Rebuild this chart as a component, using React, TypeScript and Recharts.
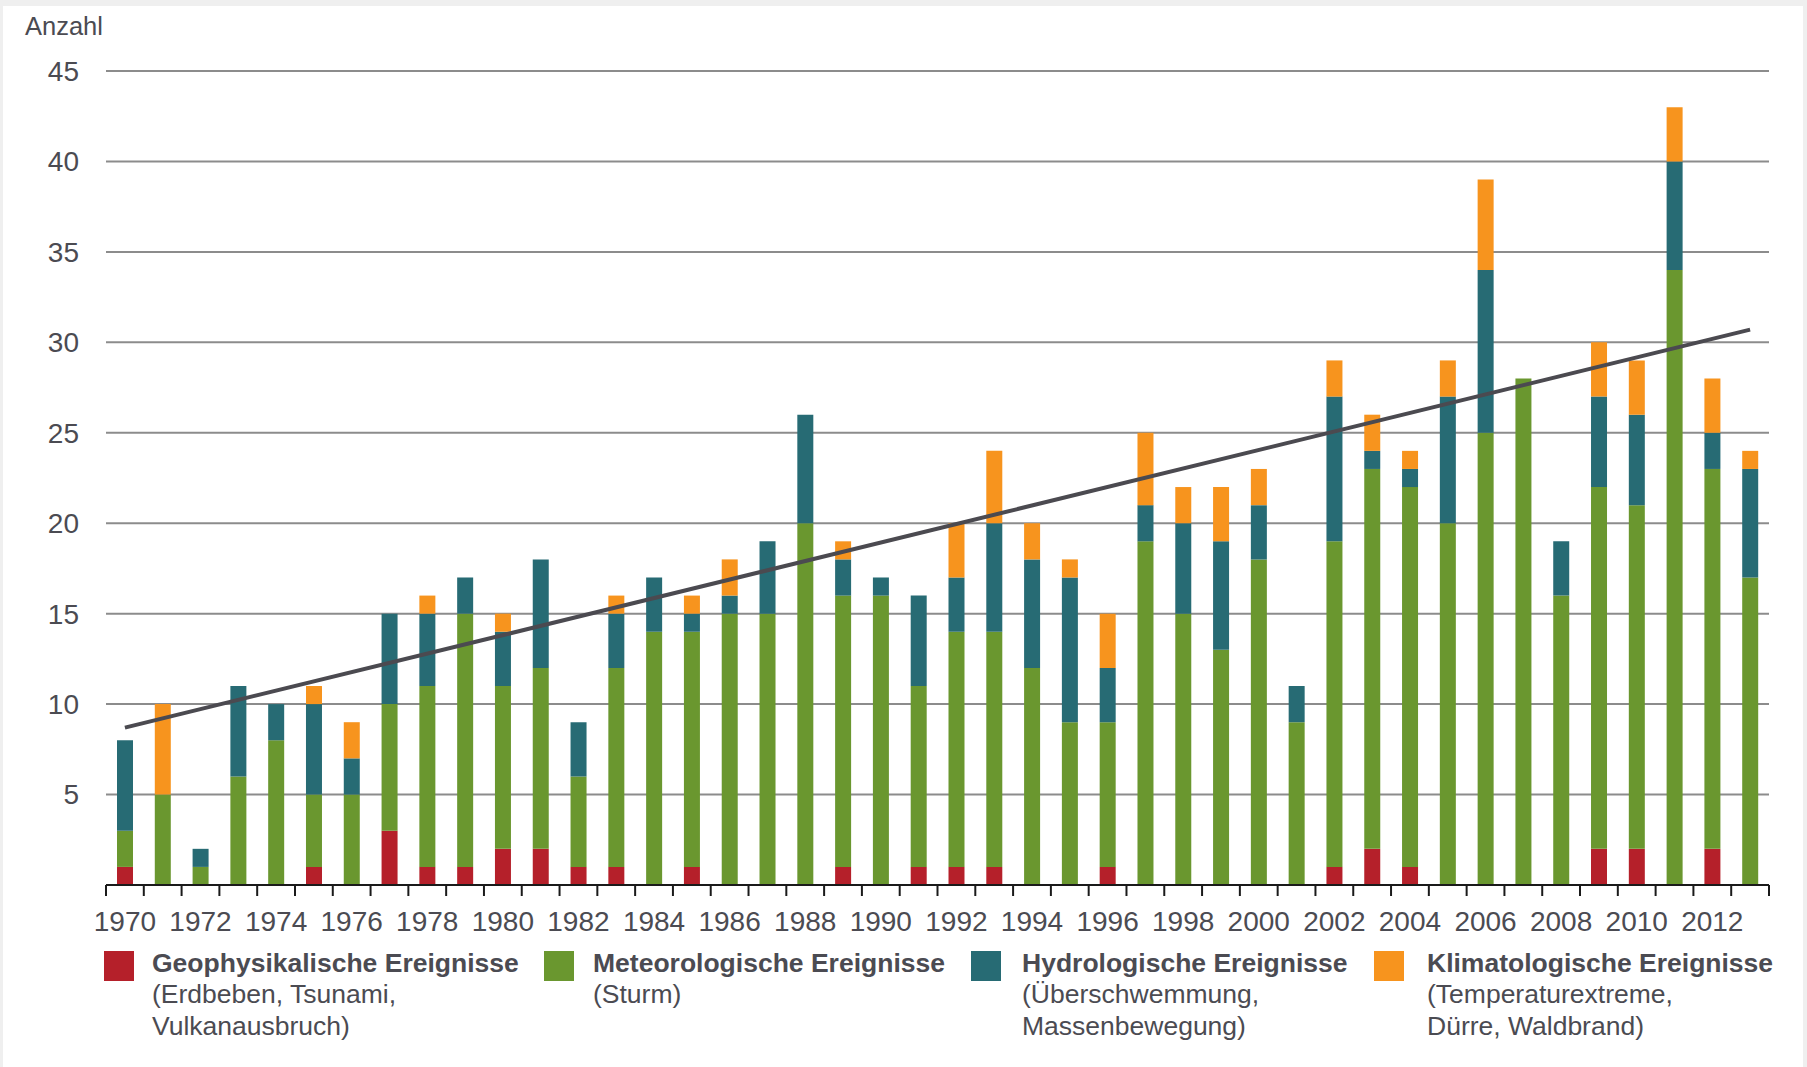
import React from "react";
import { ComposedChart, Bar, Line, XAxis, YAxis, CartesianGrid } from "recharts";

const years = [
  "1970","1971","1972","1973","1974","1975","1976","1977","1978","1979",
  "1980","1981","1982","1983","1984","1985","1986","1987","1988","1989",
  "1990","1991","1992","1993","1994","1995","1996","1997","1998","1999",
  "2000","2001","2002","2003","2004","2005","2006","2007","2008","2009",
  "2010","2011","2012","2013",
];
const geophysical = [1,0,0,0,0,1,0,3,1,1, 2,2,1,1,0,1,0,0,0,1, 0,1,1,1,0,0,1,0,0,0, 0,0,1,2,1,0,0,0,0,2, 2,0,2,0];
const meteorological = [2,5,1,6,8,4,5,7,10,14, 9,10,5,11,14,13,15,15,20,15, 16,10,13,13,12,9,8,19,15,13, 18,9,18,21,21,20,25,28,16,20, 19,34,21,17];
const hydrological = [5,0,1,5,2,5,2,5,4,2, 3,6,3,3,3,1,1,4,6,2, 1,5,3,6,6,8,3,2,5,6, 3,2,8,1,1,7,9,0,3,5, 5,6,2,6];
const climatological = [0,5,0,0,0,1,2,0,1,0, 1,0,0,1,0,1,2,0,0,1, 0,0,3,4,2,1,3,4,2,3, 2,0,2,2,1,2,5,0,0,3, 3,3,3,1];
const trendStart = 8.7;
const trendEnd = 30.7;
const yTicks = [5, 10, 15, 20, 25, 30, 35, 40, 45];

const legendItems = [
  { title: "Geophysikalische Ereignisse", lines: ["(Erdbeben, Tsunami,", "Vulkanausbruch)"], color: "#b5202a" },
  { title: "Meteorologische Ereignisse", lines: ["(Sturm)"], color: "#6a972f" },
  { title: "Hydrologische Ereignisse", lines: ["(Überschwemmung,", "Massenbewegung)"], color: "#276b74" },
  { title: "Klimatologische Ereignisse", lines: ["(Temperaturextreme,", "Dürre, Waldbrand)"], color: "#f7941e" },
];

const data = years.map((year, i) => ({
  year,
  geo: geophysical[i],
  met: meteorological[i],
  hyd: hydrological[i],
  klim: climatological[i],
  trend: i === 0 ? trendStart : i === years.length - 1 ? trendEnd : null,
}));

const FONT = '"Liberation Sans", Arial, Helvetica, sans-serif';
const TEXT = "#4b4b52";
const CHART_W = 1807;
const MARGIN_L = 106;
const MARGIN_R = 38;
const BAND = (CHART_W - MARGIN_L - MARGIN_R) / years.length;
const legendSquareX = [104, 544, 971, 1374];
const legendTextX = [152, 593, 1022, 1427];

const XTick = (props: any) => {
  const { x, y, payload, index } = props;
  const half = payload && payload.offset ? payload.offset : BAND / 2;
  const last = index === years.length - 1;
  return (
    <g>
      <line x1={x - half} x2={x - half} y1={y} y2={y + 11} stroke="#1a1a1a" strokeWidth={2} />
      {last && <line x1={x + half} x2={x + half} y1={y} y2={y + 11} stroke="#1a1a1a" strokeWidth={2} />}
      {index % 2 === 0 && (
        <text x={x} y={y + 46} textAnchor="middle" fill={TEXT} fontSize={28} fontFamily={FONT}>
          {payload.value}
        </text>
      )}
    </g>
  );
};

export default function App() {
  return (
    <div style={{ position: "relative", width: 1807, height: 1067, background: "#efefef", fontFamily: FONT }}>
      <style>{"body{margin:0;background:#efefef}"}</style>
      <div style={{ position: "absolute", left: 3, top: 6, width: 1800, height: 1061, background: "#ffffff" }} />
      <div style={{ position: "absolute", left: 25, top: 12, fontSize: 25.5, color: TEXT, lineHeight: "28px" }}>Anzahl</div>
      <div style={{ position: "absolute", left: 0, top: 0 }}>
        <ComposedChart
          width={CHART_W}
          height={960}
          data={data}
          margin={{ top: 71, right: MARGIN_R, left: 0, bottom: 0 }}
          barCategoryGap={0}
        >
          <CartesianGrid vertical={false} stroke="#8c8c8c" strokeWidth={2} />
          <YAxis
            width={MARGIN_L}
            domain={[0, 45]}
            ticks={yTicks}
            axisLine={false}
            tickLine={false}
            tickSize={0}
            tickMargin={27}
            tick={{ fill: TEXT, fontSize: 28, fontFamily: FONT }}
          />
          <XAxis
            dataKey="year"
            height={75}
            interval={0}
            axisLine={{ stroke: "#1a1a1a", strokeWidth: 2 }}
            tickLine={false}
            tickSize={0}
            tickMargin={0}
            tick={<XTick />}
          />
          <Bar dataKey="geo" stackId="a" fill="#b5202a" barSize={16} isAnimationActive={false} />
          <Bar dataKey="met" stackId="a" fill="#6a972f" barSize={16} isAnimationActive={false} />
          <Bar dataKey="hyd" stackId="a" fill="#276b74" barSize={16} isAnimationActive={false} />
          <Bar dataKey="klim" stackId="a" fill="#f7941e" barSize={16} isAnimationActive={false} />
          <Line
            dataKey="trend"
            type="linear"
            stroke="#4b4a50"
            strokeWidth={4}
            dot={false}
            activeDot={false}
            connectNulls
            isAnimationActive={false}
          />
        </ComposedChart>
      </div>
      {legendItems.map((item, i) => (
        <React.Fragment key={item.title}>
          <div style={{ position: "absolute", left: legendSquareX[i], top: 951, width: 30, height: 30, background: item.color }} />
          <div style={{ position: "absolute", left: legendTextX[i], top: 947.5, whiteSpace: "nowrap", color: TEXT, fontSize: 26.5, lineHeight: "31.5px" }}>
            <div style={{ fontWeight: "bold" }}>{item.title}</div>
            {item.lines.map((l) => (
              <div key={l}>{l}</div>
            ))}
          </div>
        </React.Fragment>
      ))}
    </div>
  );
}
